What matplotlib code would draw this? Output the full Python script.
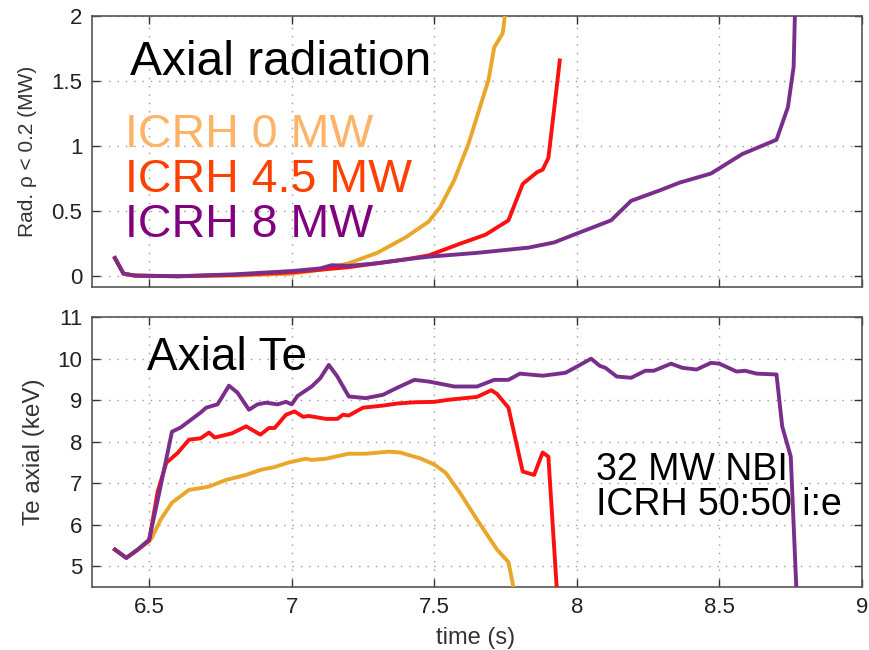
import matplotlib
matplotlib.use("Agg")
import matplotlib.pyplot as plt

plt.rcParams['font.family'] = ['Liberation Sans', 'DejaVu Sans']

# ---- Top panel: axial radiation (MW) ----
rad_t0 = [6.38, 6.41, 6.45, 6.6, 6.8, 7.0, 7.1, 7.2, 7.3, 7.4, 7.48, 7.52, 7.57, 7.62, 7.66, 7.69, 7.71, 7.74, 7.75]
rad_0 = [0.14, 0.02, 0.005, 0.0, 0.005, 0.02, 0.05, 0.1, 0.18, 0.3, 0.42, 0.53, 0.74, 1.02, 1.30, 1.51, 1.76, 1.87, 2.05]

rad_t45 = [6.38, 6.41, 6.45, 6.6, 6.8, 7.0, 7.1, 7.2, 7.3, 7.4, 7.48, 7.59, 7.68, 7.76, 7.81, 7.86, 7.88, 7.90, 7.92, 7.94]
rad_45 = [0.14, 0.02, 0.005, 0.0, 0.01, 0.03, 0.05, 0.07, 0.1, 0.13, 0.16, 0.25, 0.32, 0.43, 0.71, 0.80, 0.82, 0.91, 1.28, 1.66]

rad_t8 = [6.38, 6.41, 6.45, 6.6, 6.8, 7.0, 7.1, 7.14, 7.2, 7.3, 7.4, 7.48, 7.65, 7.83, 7.92, 7.99, 8.12, 8.19, 8.29,
          8.36, 8.47, 8.58, 8.70, 8.74, 8.76, 8.765]
rad_8 = [0.14, 0.02, 0.005, 0.0, 0.015, 0.04, 0.06, 0.085, 0.08, 0.1, 0.13, 0.15, 0.18, 0.22, 0.26, 0.32, 0.43, 0.58,
         0.66, 0.72, 0.79, 0.94, 1.05, 1.30, 1.61, 2.05]

# ---- Bottom panel: axial Te (keV) ----
te_t0 = [6.38, 6.42, 6.46, 6.50, 6.51, 6.54, 6.58, 6.64, 6.68, 6.71, 6.77, 6.84, 6.89, 6.94, 6.99, 7.05, 7.07,
         7.12, 7.20, 7.26, 7.34, 7.38, 7.45, 7.50, 7.54, 7.59, 7.65, 7.72, 7.76, 7.78]
te_0 = [5.40, 5.20, 5.40, 5.60, 5.69, 6.12, 6.53, 6.84, 6.88, 6.92, 7.08, 7.20, 7.32, 7.39, 7.50, 7.59, 7.56,
        7.59, 7.71, 7.71, 7.76, 7.74, 7.60, 7.45, 7.25, 6.77, 6.12, 5.40, 5.10, 4.40]

te_t45 = [6.38, 6.42, 6.46, 6.50, 6.53, 6.56, 6.60, 6.64, 6.68, 6.71, 6.73, 6.79, 6.84, 6.89, 6.92, 6.94, 6.98,
          7.01, 7.04, 7.06, 7.12, 7.16, 7.18, 7.20, 7.25, 7.32, 7.37, 7.43, 7.50, 7.55, 7.65, 7.70, 7.72, 7.76,
          7.81, 7.85, 7.88, 7.90, 7.93]
te_45 = [5.40, 5.20, 5.40, 5.62, 6.80, 7.49, 7.73, 8.05, 8.08, 8.22, 8.10, 8.20, 8.37, 8.17, 8.33, 8.33, 8.65,
         8.73, 8.60, 8.62, 8.55, 8.55, 8.65, 8.63, 8.82, 8.87, 8.92, 8.95, 8.96, 9.01, 9.08, 9.24, 9.15, 8.82,
         7.28, 7.20, 7.74, 7.64, 4.40]

te_t8 = [6.38, 6.42, 6.46, 6.50, 6.54, 6.58, 6.61, 6.68, 6.70, 6.74, 6.78, 6.81, 6.85, 6.88, 6.91, 6.95, 6.98,
         7.00, 7.02, 7.07, 7.10, 7.13, 7.16, 7.20, 7.26, 7.32, 7.37, 7.43, 7.48, 7.57, 7.65, 7.71, 7.76, 7.80,
         7.88, 7.96, 8.00, 8.05, 8.08, 8.10, 8.14, 8.19, 8.24, 8.27, 8.33, 8.37, 8.42, 8.47, 8.50, 8.56, 8.59,
         8.63, 8.70, 8.72, 8.75, 8.77]
te_8 = [5.40, 5.20, 5.40, 5.64, 6.92, 8.24, 8.34, 8.70, 8.82, 8.90, 9.35, 9.18, 8.77, 8.90, 8.94, 8.90, 8.96,
        8.90, 9.10, 9.33, 9.53, 9.85, 9.57, 9.09, 9.05, 9.13, 9.30, 9.49, 9.45, 9.33, 9.33, 9.49, 9.49, 9.64,
        9.59, 9.66, 9.81, 10.00, 9.83, 9.78, 9.57, 9.54, 9.71, 9.71, 9.88, 9.78, 9.74, 9.90, 9.88, 9.69, 9.71,
        9.64, 9.62, 8.37, 7.64, 4.40]

x_ticks = [6.5, 7, 7.5, 8, 8.5, 9]
x_ticklabels = ["6.5", "7", "7.5", "8", "8.5", "9"]
rad_ticks = [0, 0.5, 1, 1.5, 2]
rad_ticklabels = ["0", "0.5", "1", "1.5", "2"]
te_ticks = [5, 6, 7, 8, 9, 10, 11]
te_ticklabels = ["5", "6", "7", "8", "9", "10", "11"]

c_yellow = "#E8A72A"
c_red = "#FF1010"
c_purple = "#7A2E8C"

fig = plt.figure(figsize=(8.69, 6.5), dpi=100)
ax1 = fig.add_axes([0.106, 0.558, 0.886, 0.417])
ax2 = fig.add_axes([0.106, 0.097, 0.886, 0.415])

lw = 2.8
ax1.plot(rad_t0, rad_0, color=c_yellow, lw=lw, zorder=3)
ax1.plot(rad_t45, rad_45, color=c_red, lw=lw, zorder=4)
ax1.plot(rad_t8, rad_8, color=c_purple, lw=lw, zorder=5)

ax2.plot(te_t0, te_0, color=c_yellow, lw=lw, zorder=3)
ax2.plot(te_t45, te_45, color=c_red, lw=lw, zorder=4)
ax2.plot(te_t8, te_8, color=c_purple, lw=lw, zorder=5)

for ax in (ax1, ax2):
    ax.set_xlim(6.3, 9)
    ax.set_xticks(x_ticks)
    ax.grid(True, color="#999999", linestyle=(0, (1, 5)), linewidth=1.0)
    ax.tick_params(direction="in", top=True, right=True, length=6, width=1,
                   labelsize=16, colors="#333333", labelcolor="#222222", pad=7)
    for s in ax.spines.values():
        s.set_color("#555555")
        s.set_linewidth(1.2)

ax1.set_ylim(-0.085, 2)
ax1.set_yticks(rad_ticks)
ax1.set_yticklabels(rad_ticklabels)
ax1.set_xticklabels([])
ax1.set_ylabel("Rad. ρ < 0.2 (MW)", fontsize=15, color="#333333", va="center")
ax1.yaxis.set_label_coords(-0.084, 0.5)

ax2.set_ylim(4.5, 11)
ax2.set_yticks(te_ticks)
ax2.set_yticklabels(te_ticklabels)
ax2.set_xticklabels(x_ticklabels)
ax2.set_ylabel("Te axial (keV)", fontsize=17.5, color="#333333", va="center")
ax2.yaxis.set_label_coords(-0.076, 0.5)
ax2.set_xlabel("time (s)", fontsize=17, color="#333333", va="center")
ax2.xaxis.set_label_coords(0.498, -0.189)

ax1.text(0.049, 0.782, "Axial radiation", transform=ax1.transAxes, fontsize=34.5, color="black", va="baseline")
ax1.text(0.043, 0.517, "ICRH 0 MW", transform=ax1.transAxes, fontsize=33.5, color="#FFB366", va="baseline")
ax1.text(0.043, 0.351, "ICRH 4.5 MW", transform=ax1.transAxes, fontsize=33.5, color="#FF4000", va="baseline")
ax1.text(0.043, 0.185, "ICRH 8 MW", transform=ax1.transAxes, fontsize=33.5, color="#800080", va="baseline")

ax2.text(0.071, 0.804, "Axial Te", transform=ax2.transAxes, fontsize=33, color="black", va="baseline")
ax2.text(0.655, 0.396, "32 MW NBI", transform=ax2.transAxes, fontsize=27, color="black", va="baseline", zorder=6)
ax2.text(0.655, 0.267, "ICRH 50:50 i:e", transform=ax2.transAxes, fontsize=27, color="black", va="baseline", zorder=6)

fig.savefig("out.png", dpi=100)
